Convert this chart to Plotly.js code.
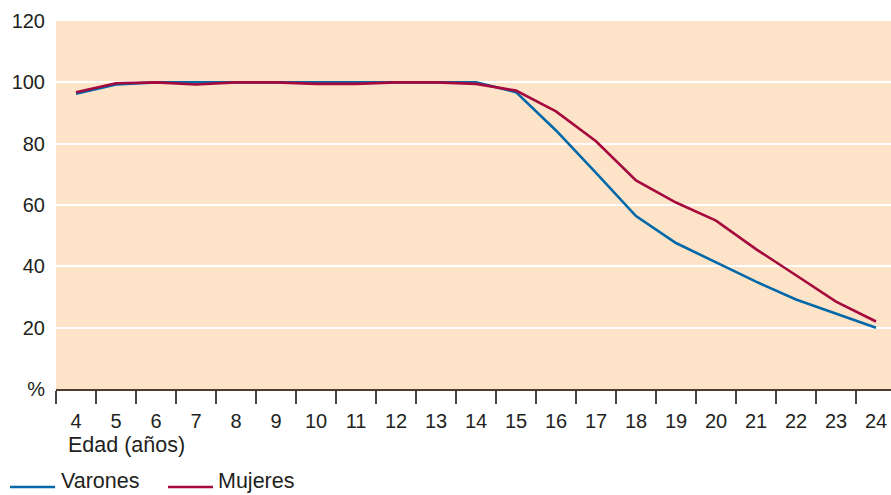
<!DOCTYPE html>
<html>
<head>
<meta charset="utf-8">
<script src="https://cdn.plot.ly/plotly-3.0.1.min.js"></script>
<style>html,body{margin:0;padding:0;background:#fff;}#chart{width:891px;height:495px;}</style>
</head>
<body>
<div id="chart"></div>
<script>
const ages = ["4","5","6","7","8","9","10","11","12","13","14","15","16","17","18","19","20","21","22","23","24"];
const varones = [96.3, 99.3, 100, 100, 100, 100, 100, 100, 100, 100, 100, 96.8, 84.3, 70.5, 56.4, 47.6, 41.4, 35.0, 29.2, 24.7, 20.0];
const mujeres = [96.8, 99.7, 100, 99.3, 100, 100, 99.5, 99.5, 100, 100, 99.5, 97.3, 90.5, 80.8, 68.0, 60.8, 54.9, 45.6, 37.1, 28.5, 22.0];
const yTickVals = [0, 20, 40, 60, 80, 100, 120];
const yTickText = ["%", "20", "40", "60", "80", "100", "120"];
const xTitle = "Edad (años)";
const seriesNames = ["Varones", "Mujeres"];
const colors = ["#0068a8", "#a6093d"];

const L = 56, T = 21, W = 891, H = 495, B = 106;
const plotW = W - L, plotH = H - T - B;
const px = x => (x - L) / plotW;
const py = y => (H - B - y) / plotH;
const font = "Liberation Sans, Arial, sans-serif";
const txt = "#231f20";

const traces = [
  {x: ages, y: varones, name: seriesNames[0], type: "scatter", mode: "lines",
   line: {color: colors[0], width: 2.6}, showlegend: false},
  {x: ages, y: mujeres, name: seriesNames[1], type: "scatter", mode: "lines",
   line: {color: colors[1], width: 2.6}, showlegend: false}
];

const layout = {
  width: W, height: H,
  margin: {l: L, r: 0, t: T, b: B, pad: 0},
  paper_bgcolor: "#ffffff",
  plot_bgcolor: "#fde4c9",
  font: {family: font, size: 20, color: txt},
  xaxis: {
    type: "category",
    range: [-0.5, 20.375],
    tickson: "boundaries",
    ticks: "outside", ticklen: 13, tickwidth: 1.2, tickcolor: "#444",
    showgrid: false, zeroline: false,
    showline: true, linecolor: "#4a3c30", linewidth: 1.5,
    ticklabelstandoff: 13,
    tickfont: {family: font, size: 20, color: txt},
    fixedrange: true
  },
  yaxis: {
    range: [0, 120],
    tickvals: yTickVals, ticktext: yTickText,
    showgrid: true, gridcolor: "#ffffff", gridwidth: 2,
    zeroline: false, showline: false, ticks: "",
    ticklabelstandoff: 10,
    tickfont: {family: font, size: 20, color: txt},
    fixedrange: true
  },
  annotations: [
    {text: xTitle, xref: "paper", yref: "paper", x: px(66), y: py(445),
     xanchor: "left", yanchor: "middle", showarrow: false,
     font: {family: font, size: 21.5, color: txt}},
    {text: seriesNames[0], xref: "paper", yref: "paper", x: px(59), y: py(481),
     xanchor: "left", yanchor: "middle", showarrow: false,
     font: {family: font, size: 21.5, color: txt}},
    {text: seriesNames[1], xref: "paper", yref: "paper", x: px(216), y: py(481),
     xanchor: "left", yanchor: "middle", showarrow: false,
     font: {family: font, size: 21.5, color: txt}}
  ],
  shapes: [
    {type: "line", xref: "paper", yref: "paper", x0: px(10), x1: px(55), y0: py(487), y1: py(487),
     line: {color: colors[0], width: 2.4}},
    {type: "line", xref: "paper", yref: "paper", x0: px(168), x1: px(213), y0: py(487), y1: py(487),
     line: {color: colors[1], width: 2.4}}
  ]
};

Plotly.newPlot("chart", traces, layout, {displayModeBar: false, staticPlot: true});
</script>
</body>
</html>
